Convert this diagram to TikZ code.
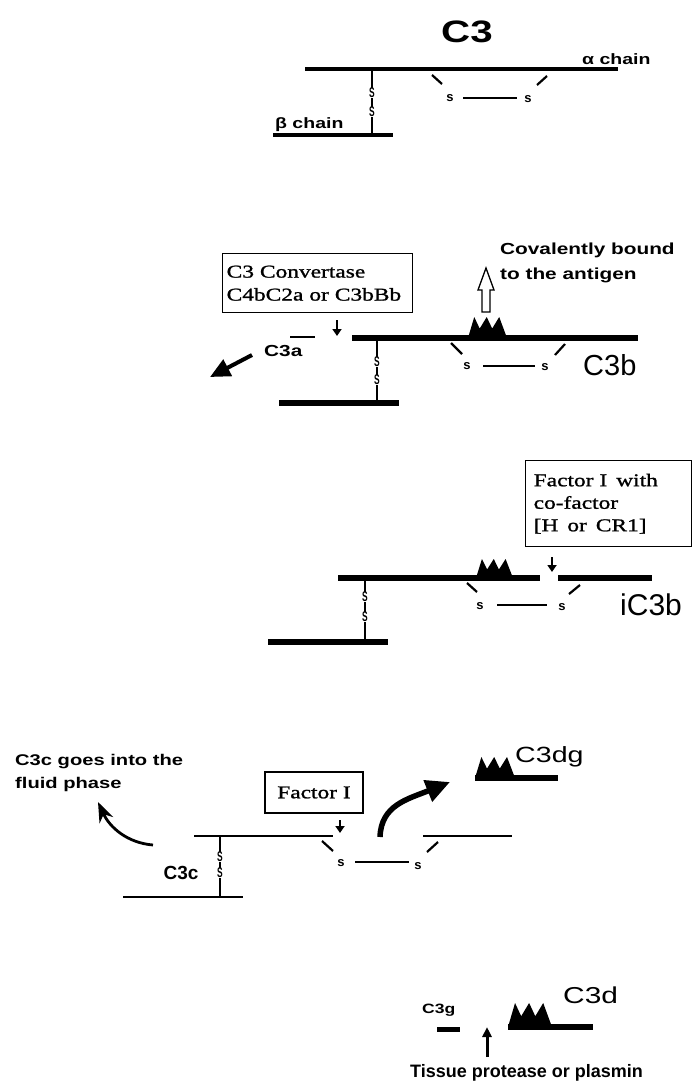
\documentclass[tikz,border=0pt]{standalone}
\usepackage{fontspec}
\usetikzlibrary{arrows.meta}
\newfontfamily\sR{Liberation Sans}
\newfontfamily\sRw[FakeStretch=1.3]{Liberation Sans}
\newfontfamily\rmw[FakeStretch=1.3,FakeBold=1.2]{Liberation Serif}
\newcommand\fs[2]{\fontsize{#1}{#2}\selectfont}
\tikzset{
  chainthin/.style={line width=3.5pt},
  chainthick/.style={line width=6pt},
  chainfine/.style={line width=2.6pt},
  ssline/.style={line width=1.8pt},
  brk/.style={line width=2.2pt},
  bond/.style={line width=1.5pt},
  ssl/.style={font=\sR\bfseries\fs{14}{14}, fill=white, inner sep=0.3pt},
  sl/.style={font=\sR\bfseries\fs{13}{13}, inner sep=0pt},
  lab/.style={font=\sRw\bfseries\fs{15}{15}, inner sep=0pt},
  big/.style={font=\sR\fs{29}{29}, inner sep=0pt},
  boxed/.style={draw, line width=1.4pt, font=\rmw\fs{18}{23}, align=left, inner ysep=4pt},
  darr/.style={line width=2.6pt, -{Triangle[length=7pt,width=9pt]}},
  peaks/.pic={\fill (0,0) -- (0.16,-1) -- (0.3,-0.45) -- (0.48,-1) -- (0.62,-0.45) -- (0.8,-1) -- (1,0) -- cycle;}
}
\newcommand\nS{\scalebox{0.6}[1]{S}}
\begin{document}
\begin{tikzpicture}[x=1pt,y=-1pt]
\useasboundingbox (0,0) rectangle (693,1082);

% ---------- Section 1: C3 ----------
\node[font=\sRw\bfseries\fs{31}{31}, inner sep=0pt, anchor=base] (tC3) at (467,42) {C3};
\draw[chainthin] (305,69) -- (618,69);
\node[lab, anchor=base west] (alab) at (582,64) {α chain};
\draw[ssline] (372,69) -- (372,135);
\node[ssl] (s1a) at (372,93) {\nS};
\node[ssl] (s1b) at (372,112) {\nS};
\draw[chainthin] (273,135) -- (393,135);
\node[lab, anchor=base west] (blab) at (275,128) {β chain};
\draw[brk] (432,75) -- (442,84);
\node[sl] (i1a) at (450,98) {s};
\draw[bond] (463,98) -- (517,98);
\node[sl] (i1b) at (528,99) {s};
\draw[brk] (537,85) -- (547,76);

% ---------- Section 2: C3b ----------
\node[boxed, anchor=north west, text width=182pt, inner xsep=4pt, minimum height=59pt] (conv) at (222,253) {C3 Convertase\\C4bC2a or C3bBb};
\coordinate (d2a) at (337,320);
\coordinate (d2b) at (337,336);
\draw[darr] (d2a) -- (d2b);
\draw[line width=2.5pt] (290,337) -- (315,337);
\node[font=\sRw\bfseries\fs{16}{16}, inner sep=0pt, anchor=base west] (c3a) at (264,356) {C3a};
\coordinate (c3aT) at (252,355);
\coordinate (c3aH) at (210,377);
\draw[line width=4pt, -{Triangle[length=20pt,width=18pt]}] (c3aT) -- (c3aH);
\draw[chainthick] (352,338) -- (638,338);
\pic[xscale=39, yscale=21] (pk2) at (468,338) {peaks};
\draw[line width=1.3pt, fill=white] (482,312) -- (482,290) -- (478,290) -- (486,268) -- (494,290) -- (490,290) -- (490,312) -- cycle;
\node[font=\sRw\bfseries\fs{16}{25}, inner sep=0pt, align=left, anchor=north west] (cov) at (500,243) {Covalently bound\\to the antigen};
\draw[ssline] (377,338) -- (377,403);
\node[ssl] (s2a) at (377,362) {\nS};
\node[ssl] (s2b) at (377,380) {\nS};
\draw[chainthick] (279,403) -- (399,403);
\draw[brk] (451,343) -- (462,354);
\node[sl] (i2a) at (467,366) {s};
\draw[bond] (483,366) -- (535,366);
\node[sl] (i2b) at (545,367) {s};
\draw[brk] (555,355) -- (565,344);
\node[big, anchor=base west] (c3b) at (583,375) {C3b};

% ---------- Section 3: iC3b ----------
\node[boxed, anchor=north west, text width=150pt, inner xsep=8pt, minimum height=86pt, font=\rmw\fs{18}{22.5}] (fi) at (525,460) {Factor I\, with\\co-factor\\{[}H\, or\, CR1{]}};
\coordinate (d3a) at (552,557);
\coordinate (d3b) at (552,572);
\draw[darr] (d3a) -- (d3b);
\draw[chainthick] (338,578) -- (540,578);
\draw[chainthick] (558,578) -- (652,578);
\pic[xscale=37, yscale=19] (pk3) at (476,578) {peaks};
\draw[ssline] (365,578) -- (365,642);
\node[ssl] (s3a) at (365,597) {\nS};
\node[ssl] (s3b) at (365,617) {\nS};
\draw[chainthick] (268,642) -- (388,642);
\draw[brk] (467,583) -- (477,592);
\node[sl] (i3a) at (480,606) {s};
\draw[bond] (497,605) -- (547,605);
\node[sl] (i3b) at (562,607) {s};
\draw[brk] (569,594) -- (580,585);
\node[font=\sR\fs{30}{30}, inner sep=0pt, anchor=base west] (ic3b) at (620,615) {iC3b};

% ---------- Section 4: C3c / C3dg ----------
\node[font=\sRw\bfseries\fs{15.5}{23}, inner sep=0pt, align=left, anchor=north west] (fluid) at (15,754) {C3c goes into the\\fluid phase};
\coordinate (cT) at (153,845);
\coordinate (cH) at (98,802);
\draw[line width=2.8pt, -{Stealth[length=20pt,width=15pt]}] (cT) .. controls (128,843) and (110,828) .. (cH);
\node[draw, line width=1.4pt, font=\rmw\fs{18}{18}, minimum width=98pt, minimum height=41pt, inner sep=0pt] (fI) at (314,792.5) {Factor I};
\coordinate (d4a) at (340,820);
\coordinate (d4b) at (340,833);
\draw[darr] (d4a) -- (d4b);
\draw[chainfine] (194,836) -- (333,836);
\draw[chainfine] (423,836) -- (512,836);
\draw[ssline] (220,836) -- (220,897);
\node[ssl] (s4a) at (220,857) {\nS};
\node[ssl] (s4b) at (220,873) {\nS};
\draw[chainfine] (123,897) -- (243,897);
\node[font=\sR\bfseries\fs{19}{19}, inner sep=0pt] (c3c) at (181,873) {C3c};
\draw[brk] (322,841) -- (333,851);
\node[sl] (i4a) at (341,863) {s};
\draw[bond] (355,862) -- (409,862);
\node[sl] (i4b) at (418,866) {s};
\draw[brk] (427,852) -- (438,842);
\coordinate (gT) at (380,837);
\coordinate (gH) at (450,782);
\draw[line width=5.5pt, -{Triangle[length=24pt,width=22pt]}] (gT) .. controls (381,805) and (408,799) .. (gH);
\draw[chainthick] (475,778) -- (558,778);
\pic[xscale=40, yscale=21] (pk4) at (475,778) {peaks};
\node[font=\sRw\fs{22}{22}, inner sep=0pt, anchor=base west] (c3dg) at (515,762) {C3dg};

% ---------- Section 5: C3d ----------
\node[font=\sRw\bfseries\fs{13.5}{13.5}, inner sep=0pt, anchor=base west] (c3g) at (422,1013) {C3g};
\draw[line width=5pt] (437,1029) -- (460,1029);
\coordinate (uT) at (487,1057);
\coordinate (uH) at (487,1027);
\draw[line width=3pt, -{Triangle[length=10pt,width=9pt]}] (uT) -- (uH);
\draw[chainthick] (508,1027) -- (593,1027);
\pic[xscale=44, yscale=24] (pk5) at (508,1027) {peaks};
\node[font=\sRw\fs{23}{23}, inner sep=0pt, anchor=base west] (c3d) at (563,1003) {C3d};
\node[font=\sR\bfseries\fs{18}{18}, inner sep=0pt, anchor=base west] (tissue) at (410,1077) {Tissue protease or plasmin};
\end{tikzpicture}
\end{document}
